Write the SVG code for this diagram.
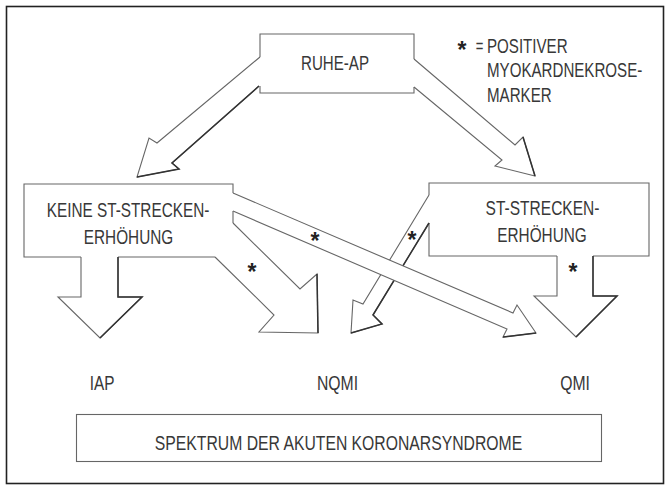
<svg xmlns="http://www.w3.org/2000/svg" width="670" height="486" viewBox="0 0 670 486">
<style>
.t{font-family:"Liberation Sans",Arial,sans-serif;font-size:21px;fill:#383838}
.c{text-anchor:middle}
.s{font-family:"Liberation Sans",Arial,sans-serif;font-size:23px;font-weight:bold;fill:#222;text-anchor:middle}
.o{fill:none;stroke:#666;stroke-width:1.1}
.bg{fill:#fff;stroke:none}
.a{fill:#fff;stroke:#666;stroke-width:1.1;stroke-linejoin:miter}
.d{fill:none;stroke:#333;stroke-width:1.5}
</style>
<rect width="670" height="486" fill="#fff"/>
<rect x="6.5" y="6.5" width="657" height="477" fill="none" stroke="#222" stroke-width="1.6"/>

<g id="legend">
<text class="s" x="462" y="58">*</text>
<text class="t c" transform="translate(479.5,53) scale(0.62,1)">=</text>
<text class="t" transform="translate(487,53) scale(0.72,1)">POSITIVER</text>
<text class="t" transform="translate(487,77) scale(0.72,1)">MYOKARDNEKROSE-</text>
<text class="t" transform="translate(487,102) scale(0.72,1)">MARKER</text>
</g>

<g id="ruhe-ap">
<rect class="bg" x="260" y="34" width="154" height="59"/>
<path class="o" d="M260,57 L260,34 L414,34 L414,59 M414,87 L414,93 L260,93 L260,86"/>
<text class="t c" transform="translate(335,70) scale(0.72,1)">RUHE-AP</text>
</g>

<g id="keine-st">
<rect class="bg" x="24" y="184" width="209" height="73"/>
<path class="o" d="M81,257 L24,257 L24,184 L233,184 L233,193 M233,211 L233,223 M118,257 L215,257"/>
<text class="t c" transform="translate(128,217) scale(0.73,1)">KEINE ST-STRECKEN-</text>
<text class="t c" transform="translate(128.5,244) scale(0.73,1)">ERHÖHUNG</text>
</g>

<g id="st">
<rect class="bg" x="429" y="183" width="220" height="73"/>
<path class="o" d="M429,195 L429,183 L649,183 L649,256 L593,256 M557,256 L429,256 L429,223"/>
<text class="t c" transform="translate(542.5,215) scale(0.74,1)">ST-STRECKEN-</text>
<text class="t c" transform="translate(542,242) scale(0.73,1)">ERHÖHUNG</text>
</g>

<g id="iap"><text class="t c" transform="translate(102,390) scale(0.73,1)">IAP</text></g>
<g id="nqmi"><text class="t c" transform="translate(337.5,390) scale(0.75,1)">NQMI</text></g>
<g id="qmi"><text class="t c" transform="translate(575,390) scale(0.75,1)">QMI</text></g>

<g id="spektrum">
<rect x="76.5" y="414.5" width="525" height="47" fill="#fff" stroke="#666" stroke-width="1.1"/>
<text class="t c" transform="translate(338.5,450) scale(0.75,1)">SPEKTRUM DER AKUTEN KORONARSYNDROME</text>
</g>

<g id="connectors">
<g id="c-ruhe-keine">
<polyline class="a" points="260,57 157,143 149,138 137,177 179,169 172,163 259,86"/>
<polyline class="d" points="137,177 179,169 172,163 259,86"/>
</g>
<g id="c-ruhe-st">
<polyline class="a" points="414,59 515,145 523,137 535,176 495,166 502,160 414,87"/>
<polyline class="d" points="523,137 535,176"/>
</g>
<g id="c-keine-iap">
<polyline class="a" points="81,257 81,297 58,297 100,338 142,297 118,297 118,257"/>
<polyline class="d" points="118,257 118,297 142,297 100,338"/>
</g>
<g id="c-keine-nqmi">
<polyline class="a" points="233,223 300,289 317,274 318,333 259,332 274,315 215,257"/>
<polyline class="d" points="317,274 318,333"/>
</g>
<g id="c-st-qmi">
<polyline class="a" points="557,256 557,296 534,296 576,337 617,296 593,296 593,256"/>
<polyline class="d" points="593,256 593,296 617,296 576,337"/>
</g>
<g id="c-st-nqmi">
<polyline class="a" points="429,195 363,304 353,300 351,333 382,324 373,315 429,223"/>
<polyline class="d" points="429,223 373,315 382,324 351,333"/>
</g>
<g id="c-keine-qmi">
<polyline class="a" points="233,193 513,313 517,305 536,333 503,337 507,329 233,211"/>
<polyline class="d" points="536,333 503,337"/>
</g>
<text class="s" x="252" y="280">*</text>
<text class="s" x="315" y="249">*</text>
<text class="s" x="412" y="248">*</text>
<text class="s" x="573" y="280">*</text>
</g>
</svg>
